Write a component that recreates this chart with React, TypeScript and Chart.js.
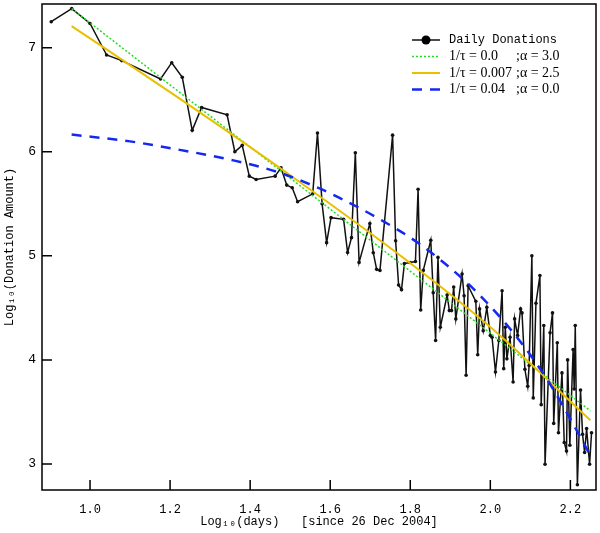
import { useEffect, useRef } from "react";
import { Chart, registerables, Plugin } from "chart.js";

Chart.register(...registerables);

// days since 26 Dec 2004 and log10 of the daily donation amount
const donationDays = [
  8, 9, 10, 11, 12, 15, 16, 17, 18, 19, 22, 23, 24, 25, 26, 29, 30, 31, 32, 33,
  36, 37, 38, 39, 40, 43, 44, 45, 46, 47, 50, 51, 52, 53, 57, 58, 59, 60, 61, 63,
  65, 66, 67, 68, 71, 72, 73, 74, 75, 78, 79, 80, 81, 82, 85, 86, 87, 88, 92, 93,
  94, 96, 98, 100, 101, 103, 105, 107, 108, 109, 110, 112, 114, 115, 117, 119, 120, 122, 124, 125,
  127, 128, 130, 133, 134, 136, 137, 141, 143, 144, 147, 148, 151, 153, 155, 156, 158, 161, 162, 163,
  165, 168, 170, 172, 174, 177, 179,
];
const donationLog = [
  7.25, 7.376, 7.233, 6.93, 6.876, 6.7, 6.856, 6.716, 6.206, 6.426, 6.356, 6.0, 6.062, 5.766, 5.734, 5.766, 5.845, 5.68, 5.654, 5.52,
  5.596, 6.18, 5.5, 5.127, 5.367, 5.351, 5.032, 5.175, 5.99, 4.937, 5.31, 5.03, 4.87, 4.86, 6.16, 5.144, 4.72, 4.675, 4.926, 4.936,
  4.945, 5.64, 4.48, 4.86, 5.15, 4.646, 4.186, 4.985, 4.314, 4.624, 4.474, 4.474, 4.7, 4.394, 4.825, 4.617, 3.852, 4.713, 4.563, 4.05,
  4.49, 4.28, 4.505, 4.234, 4.218, 3.884, 4.186, 4.665, 3.916, 4.314, 4.01, 4.218, 3.788, 4.394, 4.234, 4.49, 4.452, 3.91, 3.746, 3.947,
  5.0, 3.635, 4.544, 4.81, 3.57, 4.33, 2.997, 4.26, 4.452, 3.39, 4.165, 3.3, 3.875, 3.207, 3.124, 4.0, 3.18, 4.1, 3.72, 4.33,
  2.8, 3.71, 3.285, 3.11, 3.34, 2.997, 3.3,
];

// fitted curves
const fitAX = [0.954, 2.25];
const fitAY = [7.376, 3.51];
const fitBX = [0.954, 1.224, 1.5, 1.8, 2.0, 2.25];
const fitBY = [7.208, 6.51, 5.774, 4.93, 4.316, 3.42];
const fitCX = [0.954, 1.1, 1.236, 1.361, 1.473, 1.572, 1.622, 1.72, 1.821, 1.945, 2.02, 2.082, 2.144, 2.219, 2.25];
const fitCY = [6.165, 6.1, 6.01, 5.915, 5.8, 5.65, 5.56, 5.36, 5.12, 4.73, 4.43, 4.14, 3.8, 3.3, 3.08];

const xTicks = [1.0, 1.2, 1.4, 1.6, 1.8, 2.0, 2.2];
const yTicks = [3, 4, 5, 6, 7];

const seriesLabels = [
  "Daily Donations",
  "1/\u03c4 = 0.0;\u03b1 = 3.0",
  "1/\u03c4 = 0.007;\u03b1 = 2.5",
  "1/\u03c4 = 0.04;\u03b1 = 0.0",
];

const toPoints = (xs: number[], ys: number[]) => xs.map((x, i) => ({ x, y: ys[i] }));

const framePlugin: Plugin = {
  id: "frame",
  afterDatasetsDraw(chart) {
    const { ctx, chartArea: a, scales } = chart;
    ctx.save();
    ctx.strokeStyle = "#000";
    ctx.lineWidth = 1.5;
    ctx.strokeRect(a.left, a.top, a.right - a.left, a.bottom - a.top);
    ctx.beginPath();
    xTicks.forEach((v) => {
      const px = scales.x.getPixelForValue(v);
      ctx.moveTo(px, a.bottom);
      ctx.lineTo(px, a.bottom - 10);
    });
    yTicks.forEach((v) => {
      const py = scales.y.getPixelForValue(v);
      ctx.moveTo(a.left, py);
      ctx.lineTo(a.left + 10, py);
    });
    ctx.stroke();
    ctx.restore();
  },
};

// legend drawn inside the plot, top right
const legendPlugin: Plugin = {
  id: "insideLegend",
  afterDraw(chart) {
    const { ctx } = chart;
    const x0 = 412;
    const textX = 449;
    const semiX = 516;
    ctx.save();
    chart.data.datasets.forEach((ds: any, i) => {
      const y = 40 + i * 16.5;
      ctx.beginPath();
      ctx.strokeStyle = ds.borderColor;
      ctx.lineWidth = ds.borderWidth;
      ctx.setLineDash(ds.borderDash || []);
      ctx.moveTo(x0, y);
      ctx.lineTo(x0 + 28, y);
      ctx.stroke();
      ctx.setLineDash([]);
      if (i === 0) {
        ctx.beginPath();
        ctx.fillStyle = "#000";
        ctx.arc(x0 + 14, y, 4.5, 0, Math.PI * 2);
        ctx.fill();
      }
      ctx.fillStyle = "#000";
      ctx.textBaseline = "middle";
      const label = String(ds.label);
      if (i === 0) {
        ctx.font = "12px 'Liberation Mono'";
        ctx.fillText(label, textX, y);
      } else {
        const [left, right] = label.split(";");
        ctx.font = "14px 'Liberation Serif'";
        ctx.fillText(left, textX, y);
        ctx.fillText(";" + right, semiX, y);
      }
    });
    ctx.restore();
  },
};

export default function App() {
  const chartRef = useRef<HTMLCanvasElement>(null);
  const chartInstance = useRef<Chart | null>(null);

  useEffect(() => {
    if (!chartRef.current) return;
    if (chartInstance.current) chartInstance.current.destroy();

    const mono = "'Liberation Mono', monospace";

    chartInstance.current = new Chart(chartRef.current, {
      type: "line",
      data: {
        datasets: [
          {
            label: seriesLabels[0],
            data: donationDays.map((d, i) => ({ x: Math.log10(d), y: donationLog[i] })),
            borderColor: "#111",
            borderWidth: 1.5,
            pointRadius: 1.8,
            pointBackgroundColor: "#111",
            pointBorderWidth: 0,
            order: 4,
          },
          {
            label: seriesLabels[1],
            data: toPoints(fitAX, fitAY),
            borderColor: "#22dd22",
            borderWidth: 1.5,
            borderDash: [2, 2],
            pointRadius: 0,
            order: 3,
          },
          {
            label: seriesLabels[2],
            data: toPoints(fitBX, fitBY),
            borderColor: "#e8c000",
            borderWidth: 2,
            pointRadius: 0,
            cubicInterpolationMode: "monotone",
            order: 2,
          },
          {
            label: seriesLabels[3],
            data: toPoints(fitCX, fitCY),
            borderColor: "#1428f0",
            borderWidth: 2.5,
            borderDash: [10, 8],
            pointRadius: 0,
            cubicInterpolationMode: "monotone",
            order: 1,
          },
        ],
      },
      options: {
        responsive: false,
        animation: false,
        layout: { padding: { top: 2, right: 0, left: 0, bottom: 0 } },
        plugins: {
          legend: { display: false },
          tooltip: { enabled: false },
        },
        scales: {
          x: {
            type: "linear",
            min: 0.88,
            max: 2.264,
            grid: { display: false, drawTicks: false },
            border: { display: false },
            afterBuildTicks: (scale: any) => {
              scale.ticks = xTicks.map((value) => ({ value }));
            },
            afterFit: (scale: any) => {
              scale.height = 43;
              scale.paddingLeft = 0;
              scale.paddingRight = 0;
            },
            ticks: {
              padding: 13,
              color: "#000",
              font: { family: mono, size: 12 },
              maxRotation: 0,
              callback: (v: any) => Number(v).toFixed(1),
            },
            title: {
              display: true,
              text: "Log\u2081\u2080(days)   [since 26 Dec 2004]",
              color: "#000",
              font: { family: mono, size: 12 },
              padding: { top: 0, bottom: 4 },
            },
          },
          y: {
            type: "linear",
            min: 2.75,
            max: 7.42,
            grid: { display: false, drawTicks: false },
            border: { display: false },
            afterBuildTicks: (scale: any) => {
              scale.ticks = yTicks.map((value) => ({ value }));
            },
            afterFit: (scale: any) => {
              scale.width = 42;
              scale.paddingTop = 0;
              scale.paddingBottom = 0;
            },
            ticks: {
              padding: 6,
              color: "#000",
              font: { family: mono, size: 13 },
              callback: (v: any) => String(v),
            },
            title: {
              display: true,
              text: "Log\u2081\u2080(Donation Amount)",
              color: "#000",
              font: { family: mono, size: 12 },
              padding: { top: 3, bottom: 0 },
            },
          },
        },
      },
      plugins: [framePlugin, legendPlugin],
    });

    return () => {
      if (chartInstance.current) {
        chartInstance.current.destroy();
        chartInstance.current = null;
      }
    };
  }, []);

  return (
    <div style={{ position: "absolute", left: 0, top: 0, width: 600, height: 533, background: "#fff" }}>
      <canvas ref={chartRef} width={600} height={533} style={{ display: "block" }} />
    </div>
  );
}
